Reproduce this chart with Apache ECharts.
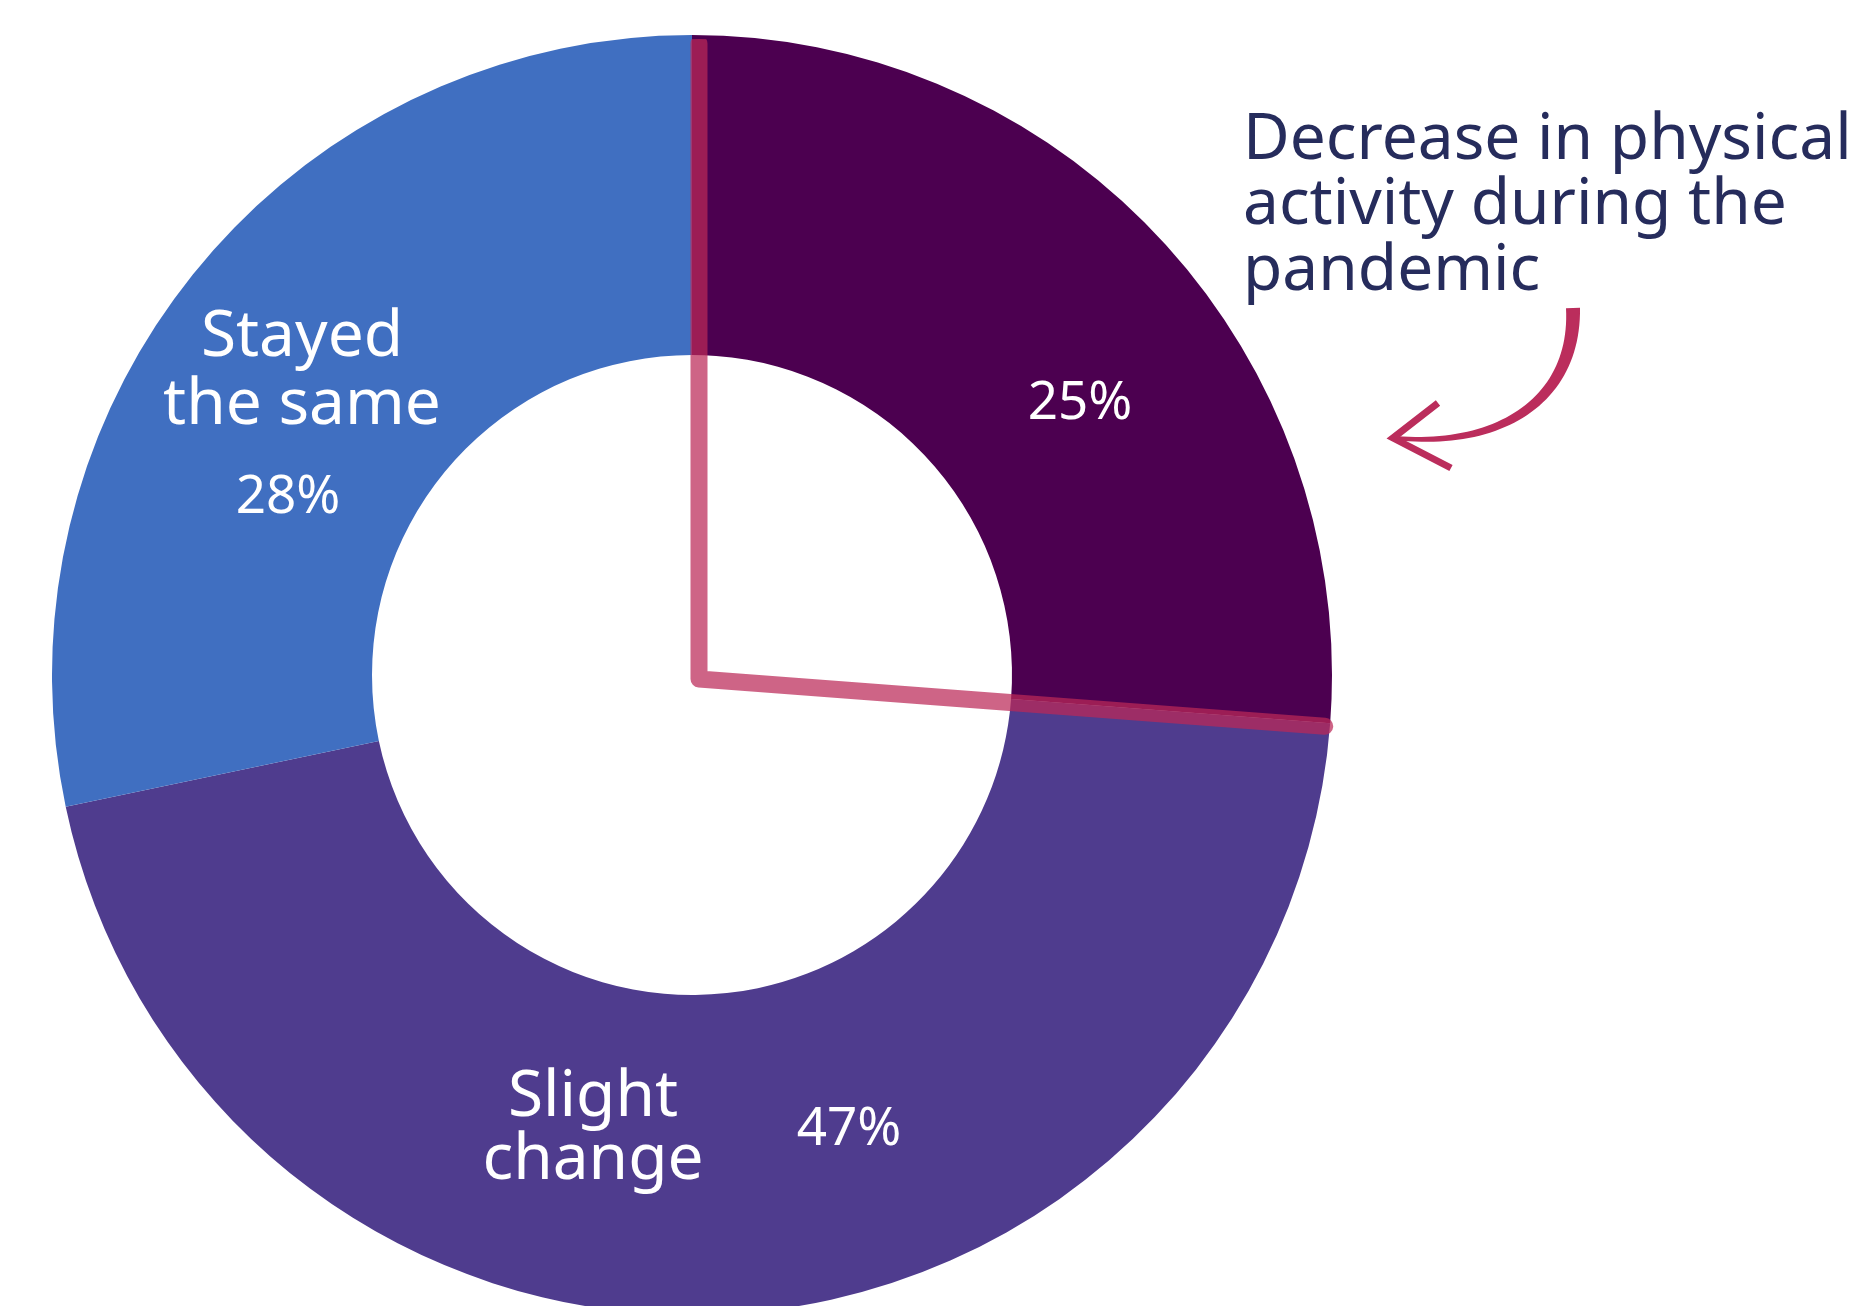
<!DOCTYPE html>
<html><head><meta charset="utf-8">
<script src="https://cdn.jsdelivr.net/npm/echarts@6/dist/echarts.min.js"></script>
<style>html,body{margin:0;padding:0;background:#fff;overflow:hidden}#c{width:1862px;height:1306px}</style>
</head><body><div id="c"></div>
<script>
// ---- data ----
const categories = ['Decrease in physical\nactivity during the\npandemic', 'Slight\nchange', 'Stayed\nthe same'];
const shares = [26.2, 45.5, 28.3];            // slice sizes as drawn
const percentLabels = ['25%', '47%', '28%'];  // printed labels

// ---- styles ----
const colors = ['#4c0050', '#4f3c8e', '#406fc1'];
const nameAnchors = [null, [593, 1129], [302, 372]];
const nameLineHeights = [66, 63, 68];
const pctAnchors = [[1080, 404], [849, 1130], [288, 498]];
const pieCenter = [692, 675];
const outerR = 640, innerR = 320;
const pink = 'rgba(187,40,88,0.72)';
const arrowColor = '#bb2d5c';
const lineW = 17;

const total = shares.reduce((a, b) => a + b, 0);
const wedgeEnd = shares[0] / total * 360;

function anchorLayout(anchors) {
  return function (p) {
    const a = anchors[p.dataIndex];
    if (!a) return {};
    const r = p.labelRect;
    return { dx: a[0] - (r.x + r.width / 2), dy: a[1] - (r.y + r.height / 2) };
  };
}

// decorative hand-drawn arrow (tapered curve)
function taperedCurve(p0, c1, c2, p3, w0, w1, n) {
  const left = [], right = [];
  for (let i = 0; i <= n; i++) {
    const t = i / n, u = 1 - t;
    const x = u*u*u*p0[0] + 3*u*u*t*c1[0] + 3*u*t*t*c2[0] + t*t*t*p3[0];
    const y = u*u*u*p0[1] + 3*u*u*t*c1[1] + 3*u*t*t*c2[1] + t*t*t*p3[1];
    const dx = 3*u*u*(c1[0]-p0[0]) + 6*u*t*(c2[0]-c1[0]) + 3*t*t*(p3[0]-c2[0]);
    const dy = 3*u*u*(c1[1]-p0[1]) + 6*u*t*(c2[1]-c1[1]) + 3*t*t*(p3[1]-c2[1]);
    const len = Math.hypot(dx, dy) || 1;
    const w = (w0 + (w1 - w0) * t) / 2;
    left.push([x - dy / len * w, y + dx / len * w]);
    right.push([x + dy / len * w, y - dx / len * w]);
  }
  return left.concat(right.reverse());
}
const arrowBody = taperedCurve([1573, 308], [1576, 400], [1500, 448], [1396, 438], 14, 4, 48);

const chart = echarts.init(document.getElementById('c'), null, { renderer: 'canvas' });
chart.setOption({
  animation: false,
  backgroundColor: '#ffffff',
  polar: { center: [699, 679], radius: outerR },
  angleAxis: { type: 'value', min: 0, max: 360, startAngle: 90, clockwise: true, show: false },
  radiusAxis: { type: 'value', min: 0, max: outerR, show: false },
  series: [
    {
      type: 'pie', center: pieCenter, radius: [innerR, outerR], startAngle: 90, clockwise: true,
      silent: true, z: 1,
      itemStyle: { borderWidth: 0 },
      label: { show: true, position: 'inside', formatter: '{b}', color: '#ffffff', fontFamily: "'Noto Sans'", fontSize: 64, align: 'center' },
      labelLine: { show: false },
      labelLayout: anchorLayout(nameAnchors),
      data: categories.map((n, i) => ({ name: n, value: shares[i], itemStyle: { color: colors[i] }, label: { show: i > 0, lineHeight: nameLineHeights[i] } }))
    },
    {
      type: 'pie', center: pieCenter, radius: [innerR, outerR], startAngle: 90, clockwise: true,
      silent: true, z: 2,
      itemStyle: { color: 'rgba(0,0,0,0)', borderWidth: 0 },
      label: { show: true, position: 'inside', formatter: p => percentLabels[p.dataIndex], color: '#ffffff', fontFamily: "'Noto Sans'", fontSize: 53 },
      labelLine: { show: false },
      labelLayout: anchorLayout(pctAnchors),
      data: categories.map((n, i) => ({ name: n, value: shares[i] }))
    },
    {
      type: 'line', coordinateSystem: 'polar', z: 5, silent: true, symbol: 'none',
      lineStyle: { color: pink, width: lineW, cap: 'round', join: 'round' },
      data: [[outerR - lineW / 2 + 4, 0], [0, 0], [outerR - lineW / 2 - 4, wedgeEnd]]
    }
  ],
  graphic: [
    {
      type: 'text', z: 10, silent: true,
      x: 1243, y: 108,
      style: { text: categories[0], fontFamily: "'Noto Sans'", fontSize: 64, lineHeight: 65.5, fill: '#262c5c', verticalAlign: 'top', align: 'left' }
    },
    {
      type: 'group', z: 10, silent: true,
      children: [
        { type: 'polygon', shape: { points: arrowBody }, style: { fill: arrowColor } },
        { type: 'polyline', shape: { points: [[1438, 403], [1393, 438], [1451, 468]] }, style: { stroke: arrowColor, lineWidth: 7, fill: null, lineJoin: 'miter' } }
      ]
    }
  ]
});
</script></body></html>
